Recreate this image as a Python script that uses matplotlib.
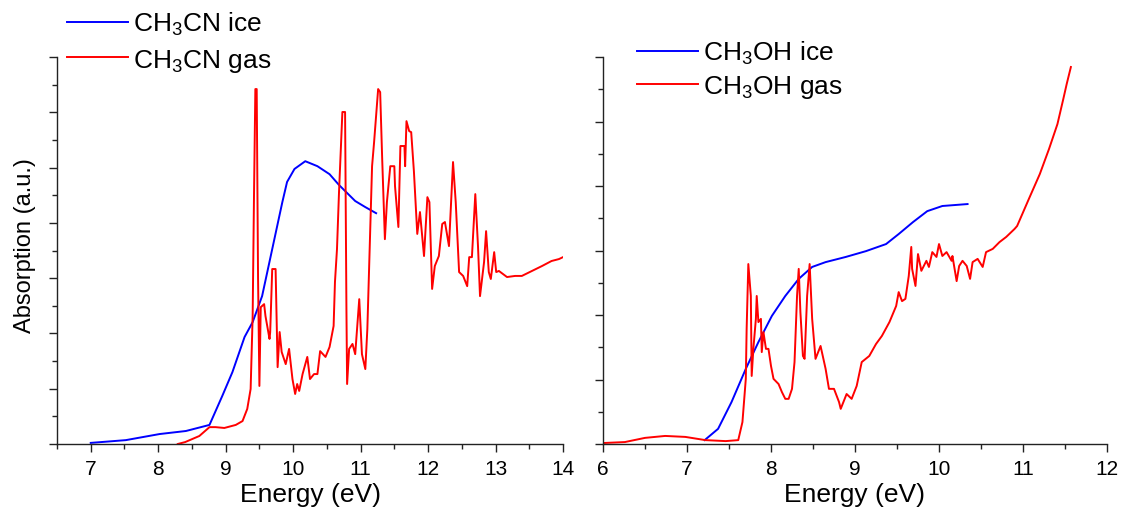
import numpy as np
import matplotlib
matplotlib.use("Agg")
import matplotlib.pyplot as plt
from matplotlib.ticker import MultipleLocator, NullFormatter

plt.rcParams['font.family'] = ['Liberation Sans', 'DejaVu Sans']
plt.rcParams['mathtext.default'] = 'regular'

# CH3CN ice spectrum
cn_ice_e = [7.00, 7.52, 8.02, 8.41, 8.76, 8.95, 9.10, 9.28, 9.40, 9.54, 9.69,
            9.84, 9.91, 10.02, 10.18, 10.36, 10.54, 10.68, 10.92, 11.07, 11.23]
cn_ice_a = [0.004, 0.014, 0.036, 0.047, 0.069, 0.174, 0.260, 0.387, 0.441, 0.535, 0.705,
            0.875, 0.948, 0.995, 1.023, 1.005, 0.976, 0.937, 0.879, 0.857, 0.835]

# CH3CN gas spectrum
cn_gas_e = [8.29, 8.40, 8.61, 8.76, 8.85, 8.98, 9.15, 9.25, 9.32, 9.37, 9.40, 9.42,
            9.44, 9.46, 9.48, 9.50, 9.52, 9.57, 9.59, 9.65, 9.66, 9.69, 9.74, 9.77,
            9.80, 9.83, 9.89, 9.94, 9.99, 10.03, 10.06, 10.09, 10.14, 10.21, 10.25,
            10.31, 10.36, 10.40, 10.48, 10.54, 10.60, 10.62, 10.65, 10.68, 10.73,
            10.77, 10.79, 10.80, 10.83, 10.88, 10.92, 10.98, 11.02, 11.07, 11.10,
            11.13, 11.17, 11.20, 11.26, 11.29, 11.32, 11.36, 11.39, 11.44, 11.50,
            11.51, 11.56, 11.59, 11.65, 11.66, 11.68, 11.72, 11.75, 11.79, 11.84,
            11.88, 11.94, 11.99, 12.02, 12.06, 12.10, 12.16, 12.21, 12.25, 12.31,
            12.37, 12.41, 12.46, 12.52, 12.58, 12.61, 12.65, 12.70, 12.74, 12.77,
            12.83, 12.86, 12.90, 12.93, 12.98, 13.01, 13.05, 13.17, 13.29, 13.39,
            13.54, 13.69, 13.83, 13.94, 14.00]
cn_gas_a = [0.000, 0.007, 0.029, 0.061, 0.061, 0.058, 0.069, 0.083, 0.127, 0.199, 0.463, 0.900,
            1.284, 1.284, 0.600, 0.210, 0.495, 0.506, 0.463, 0.380, 0.405, 0.633, 0.633, 0.278,
            0.405, 0.333, 0.289, 0.344, 0.235, 0.181, 0.217, 0.192, 0.253, 0.315, 0.235,
            0.253, 0.253, 0.336, 0.315, 0.351, 0.427, 0.586, 0.705, 0.911, 1.201,
            1.201, 0.488, 0.217, 0.344, 0.362, 0.325, 0.524, 0.325, 0.271, 0.416,
            0.669, 1.005, 1.092, 1.284, 1.273, 1.031, 0.741, 0.875, 1.005, 1.005,
            0.933, 0.785, 1.078, 1.078, 1.005, 1.168, 1.132, 1.128, 0.987, 0.760,
            0.839, 0.680, 0.893, 0.875, 0.561, 0.644, 0.680, 0.796, 0.803, 0.716,
            1.020, 0.875, 0.622, 0.608, 0.571, 0.676, 0.676, 0.904, 0.716, 0.535,
            0.658, 0.770, 0.622, 0.597, 0.694, 0.622, 0.626, 0.604, 0.608, 0.608,
            0.626, 0.644, 0.662, 0.669, 0.676]

# CH3OH ice spectrum
oh_ice_e = [7.21, 7.37, 7.53, 7.70, 7.85, 8.01, 8.17, 8.33, 8.49, 8.65, 8.89,
            9.13, 9.37, 9.52, 9.69, 9.86, 10.04, 10.34]
oh_ice_a = [0.012, 0.047, 0.130, 0.233, 0.316, 0.397, 0.459, 0.512, 0.549, 0.564, 0.580,
            0.598, 0.620, 0.651, 0.688, 0.722, 0.738, 0.744]

# CH3OH gas spectrum
oh_gas_e = [6.00, 6.26, 6.50, 6.74, 6.98, 7.22, 7.46, 7.61, 7.66, 7.70, 7.71, 7.73,
            7.76, 7.77, 7.79, 7.82, 7.83, 7.85, 7.88, 7.89, 7.91, 7.94, 7.97, 8.00,
            8.03, 8.09, 8.13, 8.17, 8.21, 8.25, 8.28, 8.31, 8.33, 8.35, 8.38, 8.40,
            8.43, 8.46, 8.49, 8.53, 8.59, 8.65, 8.69, 8.75, 8.81, 8.83, 8.90, 8.96,
            9.02, 9.08, 9.17, 9.25, 9.32, 9.41, 9.49, 9.52, 9.56, 9.60, 9.64, 9.67,
            9.68, 9.72, 9.75, 9.79, 9.85, 9.88, 9.92, 9.97, 10.00, 10.04, 10.09,
            10.15, 10.16, 10.21, 10.24, 10.28, 10.33, 10.37, 10.40, 10.46, 10.52,
            10.56, 10.64, 10.72, 10.80, 10.90, 10.93, 11.07, 11.20, 11.31, 11.41,
            11.48, 11.52, 11.57]
oh_gas_a = [0.003, 0.006, 0.019, 0.025, 0.022, 0.012, 0.009, 0.012, 0.068, 0.202, 0.357, 0.558,
            0.459, 0.211, 0.295, 0.388, 0.459, 0.378, 0.388, 0.285, 0.347, 0.295, 0.295, 0.242,
            0.202, 0.186, 0.161, 0.140, 0.140, 0.171, 0.254, 0.459, 0.543, 0.409, 0.273, 0.264,
            0.459, 0.558, 0.388, 0.264, 0.304, 0.233, 0.171, 0.171, 0.130, 0.109, 0.155, 0.140,
            0.180, 0.254, 0.273, 0.310, 0.335, 0.378, 0.428, 0.471, 0.443, 0.450, 0.521, 0.611,
            0.543, 0.490, 0.589, 0.537, 0.568, 0.549, 0.595, 0.580, 0.620, 0.583, 0.595,
            0.568, 0.583, 0.505, 0.552, 0.568, 0.552, 0.512, 0.564, 0.574, 0.549,
            0.595, 0.605, 0.626, 0.642, 0.667, 0.676, 0.760, 0.837, 0.915, 0.992,
            1.070, 1.116, 1.169]

W, H = 1124, 510
fig = plt.figure(figsize=(W / 100, H / 100), dpi=100)
ax1 = fig.add_axes([57 / W, 1 - 445 / H, 506 / W, 387 / H])
ax2 = fig.add_axes([603 / W, 1 - 445 / H, 504 / W, 387 / H])


def style(ax, xlim, ylim, ymaj):
    ax.set_xlim(*xlim)
    ax.set_ylim(*ylim)
    for s in ('top', 'right'):
        ax.spines[s].set_visible(False)
    for s in ('left', 'bottom'):
        ax.spines[s].set_color('#222222')
        ax.spines[s].set_linewidth(1.0)
    ax.xaxis.set_major_locator(MultipleLocator(1))
    ax.xaxis.set_minor_locator(MultipleLocator(0.5))
    ax.yaxis.set_major_locator(MultipleLocator(ymaj))
    ax.yaxis.set_minor_locator(MultipleLocator(ymaj / 2))
    ax.yaxis.set_major_formatter(NullFormatter())
    ax.tick_params(which='major', length=6, width=1.0, color='#222222',
                   labelsize=15, pad=5)
    ax.tick_params(which='minor', length=3.5, width=1.0, color='#222222')
    ax.set_xlabel('Energy (eV)', fontsize=19, labelpad=2.5)


style(ax1, (6.5, 14), (0, 1.4), 0.2)
style(ax2, (6, 12), (0, 1.2), 0.2)

ax1.plot(cn_ice_e, cn_ice_a, color='#0000FF', lw=1.4, label=r'CH$_3$CN ice')
ax1.plot(cn_gas_e, cn_gas_a, color='#FF0000', lw=1.4, label=r'CH$_3$CN gas')
ax2.plot(oh_ice_e, oh_ice_a, color='#0000FF', lw=1.4, label=r'CH$_3$OH ice')
ax2.plot(oh_gas_e, oh_gas_a, color='#FF0000', lw=1.4, label=r'CH$_3$OH gas')

ax1.set_ylabel('Absorption (a.u.)', fontsize=17)
ax1.yaxis.set_label_coords(-0.042, 0.515)

for ax, x0, y0, sp in ((ax1, 67, 11, 0.36), (ax2, 637, 40, 0.26)):
    ax.legend(loc='upper left', bbox_to_anchor=(x0 / W, 1 - y0 / H),
              bbox_transform=fig.transFigure, frameon=False, fontsize=19,
              handlelength=2.3, handletextpad=0.2, labelspacing=sp,
              borderaxespad=0, borderpad=0)

fig.savefig('out.png', dpi=100)
